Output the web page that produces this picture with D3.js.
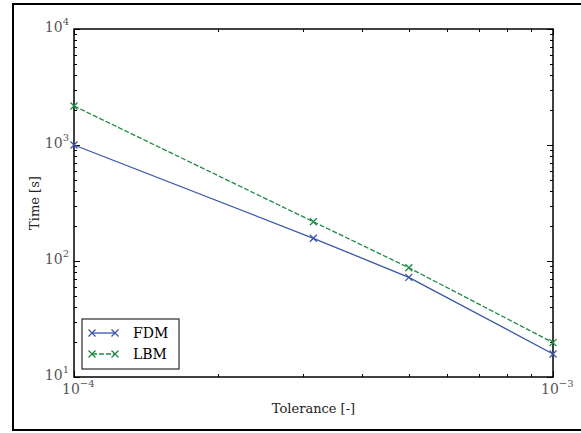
<!DOCTYPE html>
<html lang="en">
<head>
  <meta charset="UTF-8">
  <script src="https://d3js.org/d3.v7.min.js"></script>
  <title></title>
  <style>
    html, body { margin: 0; background: #fff; overflow: hidden; }
    svg { display: block; }
    text { font-family: 'DejaVu Serif', 'Liberation Serif', serif; }
  </style>
</head>
<body>
  <script>
    var tolerance = [1e-4, 3.16e-4, 5e-4, 1e-3];
    var fdm = [1000, 157, 72.3, 15.8];
    var lbm = [2170, 218, 87.5, 19.8];
    var xTickExp = [-4, -3];
    var yTickExp = [1, 2, 3, 4];

    var W = 581, H = 433;
    var margin = {top: 29, right: 28, bottom: 56, left: 74},
      width = W - margin.left - margin.right,
      height = H - margin.top - margin.bottom;

    var root = d3.select('body').append('svg')
      .attr('width', W).attr('height', H);

    // figure frame: left, top, bottom edges only (right edge is cut off)
    root.append('path')
      .attr('d', 'M' + W + ',4H13V430H' + W)
      .attr('fill', 'none').attr('stroke', '#000').attr('stroke-width', 2);

    var svg = root.append('g')
      .attr('transform', 'translate(' + margin.left + ',' + margin.top + ')');

    var x = d3.scaleLog().domain([1e-4, 1e-3]).range([0, width]);
    var y = d3.scaleLog().domain([10, 1e4]).range([height, 0]);

    // minor + major ticks, inward on all sides
    var ticks = svg.append('g').attr('stroke', '#000').attr('stroke-width', 1);
    var xt = [];
    for (var e = -4; e < -3; e++) for (var m = 1; m < 10; m++) xt.push(m * Math.pow(10, e));
    xt.push(1e-3);
    xt.forEach(function(v) {
      var len = (Math.abs(Math.log10(v) - Math.round(Math.log10(v))) < 1e-9) ? 6 : 3;
      var px = Math.round(x(v)) + 0.5;
      ticks.append('line').attr('x1', px).attr('x2', px).attr('y1', height).attr('y2', height - len);
      ticks.append('line').attr('x1', px).attr('x2', px).attr('y1', 0).attr('y2', len);
    });
    var yt = [];
    for (var e2 = 1; e2 < 4; e2++) for (var m2 = 1; m2 < 10; m2++) yt.push(m2 * Math.pow(10, e2));
    yt.push(1e4);
    yt.forEach(function(v) {
      var len = (Math.abs(Math.log10(v) - Math.round(Math.log10(v))) < 1e-9) ? 6 : 3;
      var py = Math.round(y(v)) + 0.5;
      ticks.append('line').attr('y1', py).attr('y2', py).attr('x1', 0).attr('x2', len);
      ticks.append('line').attr('y1', py).attr('y2', py).attr('x1', width).attr('x2', width - len);
    });

    // plot frame
    svg.append('rect')
      .attr('width', width).attr('height', height)
      .attr('fill', 'none').attr('stroke', '#000').attr('stroke-width', 1.5);

    // tick labels
    var lab = svg.append('g').attr('fill', '#555');
    yTickExp.forEach(function(p) {
      var t = lab.append('text')
        .attr('x', -5).attr('y', y(Math.pow(10, p)) + 3)
        .attr('text-anchor', 'end').attr('font-size', 14);
      t.append('tspan').text('10');
      t.append('tspan').attr('dy', -7).attr('font-size', 10).text(p);
    });
    xTickExp.forEach(function(p) {
      var t = lab.append('text')
        .attr('x', x(Math.pow(10, p)) - 12).attr('y', height + 17)
        .attr('font-size', 14);
      t.append('tspan').text('10');
      t.append('tspan').attr('dy', -7).attr('font-size', 10).text('\u2212' + Math.abs(p));
    });

    // axis titles
    svg.append('text')
      .attr('x', width / 2).attr('y', height + 36)
      .attr('text-anchor', 'middle').attr('font-size', 13).attr('fill', '#222')
      .text('Tolerance [-]');
    svg.append('text')
      .attr('transform', 'translate(-35,' + (height / 2) + ') rotate(-90)')
      .attr('text-anchor', 'middle').attr('font-size', 13).attr('fill', '#222')
      .text('Time [s]');

    var series = [
      {name: 'FDM', values: fdm, color: '#3b55a8', dash: null},
      {name: 'LBM', values: lbm, color: '#1f8a45', dash: '5,2'}
    ];

    var line = d3.line()
      .x(function(d) { return x(d[0]); })
      .y(function(d) { return y(d[1]); });

    function cross(g, cx, cy, color) {
      var s = 3.5;
      g.append('path')
        .attr('d', 'M' + (cx - s) + ',' + (cy - s) + 'L' + (cx + s) + ',' + (cy + s) +
                   'M' + (cx - s) + ',' + (cy + s) + 'L' + (cx + s) + ',' + (cy - s))
        .attr('stroke', color).attr('stroke-width', 1.3).attr('fill', 'none');
    }

    series.forEach(function(s) {
      var pts = tolerance.map(function(t, i) { return [t, s.values[i]]; });
      svg.append('path')
        .datum(pts)
        .attr('d', line)
        .attr('fill', 'none')
        .attr('stroke', s.color)
        .attr('stroke-width', 1.3)
        .attr('stroke-dasharray', s.dash);
      var g = svg.append('g');
      pts.forEach(function(p) { cross(g, x(p[0]), y(p[1]), s.color); });
    });

    // legend
    var lg = svg.append('g').attr('transform', 'translate(8,290)');
    lg.append('rect')
      .attr('width', 97).attr('height', 50)
      .attr('fill', '#fff').attr('stroke', '#000').attr('stroke-width', 1);
    series.forEach(function(s, i) {
      var ly = 14 + i * 21;
      lg.append('line')
        .attr('x1', 10).attr('x2', 33).attr('y1', ly).attr('y2', ly)
        .attr('stroke', s.color).attr('stroke-width', 1.3)
        .attr('stroke-dasharray', s.dash);
      cross(lg, 10, ly, s.color);
      cross(lg, 33, ly, s.color);
      lg.append('text')
        .attr('x', 51).attr('y', ly + 5)
        .attr('font-size', 14)
        .text(s.name);
    });
  </script>
</body>
</html>
